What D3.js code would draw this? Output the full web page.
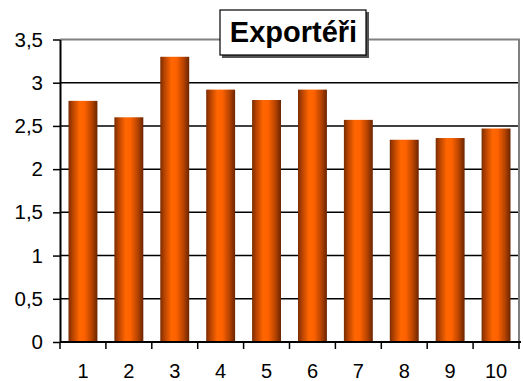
<!DOCTYPE html>
<html><head><meta charset="utf-8">
<script src="https://cdn.jsdelivr.net/npm/d3@7"></script>
<style>body{margin:0;background:#fff}svg{display:block}</style>
</head><body>
<script>
const categories = ["1","2","3","4","5","6","7","8","9","10"];
const values = [2.79, 2.60, 3.30, 2.92, 2.80, 2.92, 2.57, 2.34, 2.36, 2.47];
const yTicks = [0, 0.5, 1, 1.5, 2, 2.5, 3, 3.5];
const title = "Exportéři";

const W = 523, H = 381;
const m = {left: 60};
const svg = d3.select("body").append("svg").attr("width", W).attr("height", H);
const x = d3.scaleBand().domain(categories).range([m.left, 519]).paddingInner(0.37).paddingOuter(0.185);
const y = d3.scaleLinear().domain([0, 3.5]).range([342, 39.5]);
const fmt = d => String(d).replace(".", ",");
const FONT = "Liberation Sans, Arial, sans-serif";

const defs = svg.append("defs");
const g = defs.append("linearGradient").attr("id", "barg").attr("x1", 0).attr("x2", 1).attr("y1", 0).attr("y2", 0);
[[0, "#7a2c00"], [0.15, "#b94400"], [0.38, "#ff6600"], [0.55, "#ff6200"], [0.8, "#b84400"], [1, "#6a2400"]]
  .forEach(([o, c]) => g.append("stop").attr("offset", o).attr("stop-color", c));

// grid lines
svg.append("g").selectAll("line").data(yTicks.filter(t => t > 0 && t < 3.5)).join("line")
  .attr("x1", m.left).attr("x2", 519).attr("y1", d => y(d)).attr("y2", d => y(d))
  .attr("stroke", "#000").attr("stroke-width", 1.5);
// top and right border (gray)
svg.append("path").attr("d", `M${m.left},${y(3.5)}H519V${y(0)}`)
  .attr("fill", "none").attr("stroke", "#808080").attr("stroke-width", 2);

// bars
svg.append("g").selectAll("rect").data(values).join("rect")
  .attr("x", (d, i) => x(categories[i])).attr("width", x.bandwidth())
  .attr("y", d => y(d)).attr("height", d => y(0) - y(d))
  .attr("fill", "url(#barg)");

// y axis
const ya = svg.append("g").attr("transform", `translate(${m.left},0)`)
  .call(d3.axisLeft(y).tickValues(yTicks).tickFormat(fmt).tickSizeInner(7).tickSizeOuter(0).tickPadding(10));
ya.select(".domain").attr("stroke", "#000").attr("stroke-width", 2);
ya.selectAll(".tick line").attr("stroke", "#000").attr("stroke-width", 1.5);
ya.selectAll("text").attr("font-family", FONT).attr("font-size", 20.5).attr("fill", "#000");

// x axis
const xa = svg.append("g").attr("transform", `translate(0,${y(0)})`)
  .call(d3.axisBottom(x).tickSize(0).tickPadding(22));
xa.select(".domain").attr("d", `M${m.left},0H521`).attr("stroke", "#000").attr("stroke-width", 2);
xa.selectAll("text").attr("font-family", FONT).attr("font-size", 20).attr("fill", "#000");
const bounds = d3.range(categories.length + 1).map(i => m.left + i * x.step());
xa.append("g").selectAll("line").data(bounds).join("line")
  .attr("x1", d => d).attr("x2", d => d).attr("y1", 0).attr("y2", 7)
  .attr("stroke", "#000").attr("stroke-width", 1.5);

// title box
const tb = svg.append("g");
tb.append("rect").attr("x", 222).attr("y", 12).attr("width", 147).attr("height", 46).attr("fill", "#555");
tb.append("rect").attr("x", 220).attr("y", 10).attr("width", 146).attr("height", 45).attr("fill", "#fff")
  .attr("stroke", "#000").attr("stroke-width", 1.2);
tb.append("text").attr("x", 293.5).attr("y", 42).attr("text-anchor", "middle")
  .attr("font-family", FONT).attr("font-weight", "bold").attr("font-size", 29)
  .text(title);
</script>
</body></html>
